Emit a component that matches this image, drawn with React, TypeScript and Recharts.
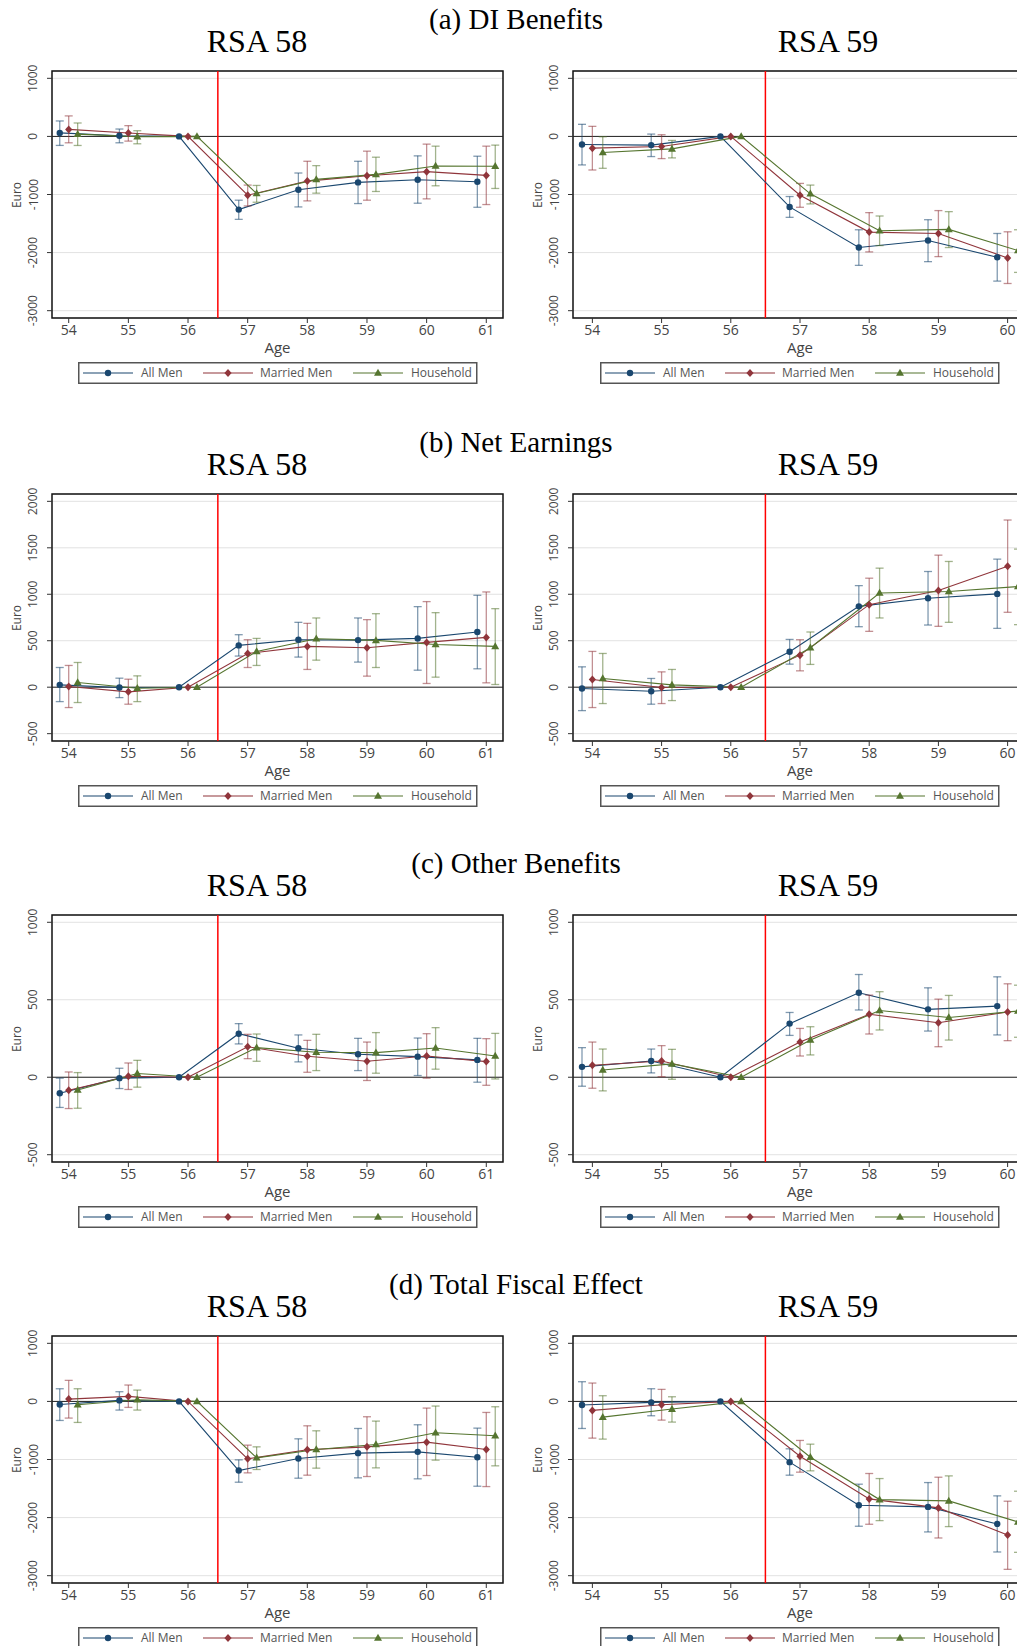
import React from "react";
import {
  ComposedChart,
  Line,
  XAxis,
  YAxis,
  CartesianGrid,
  ReferenceLine,
  ReferenceArea,
  ErrorBar,
} from "recharts";

type CI = [number, number] | null;

const SERIES_NAMES = ["All Men", "Married Men", "Household"];
const COLORS = ["#1a476f", "#90353b", "#55752f"];
const MARKERS = ["circle", "diamond", "triangle"];
const OFFSETS = [-0.15, 0, 0.15];

const AGES_58 = [54, 55, 56, 57, 58, 59, 60, 61];
const AGES_59 = [54, 55, 56, 57, 58, 59, 60];

const TICKS_WIDE = [-3000, -2000, -1000, 0, 1000];
const TICKS_EARN = [-500, 0, 500, 1000, 1500, 2000];
const TICKS_OTHER = [-500, 0, 500, 1000];

// (a) DI Benefits
const DI_58_ALL = [60, 12, 0, -1260, -919, -792, -746, -780];
const DI_58_ALL_CI: CI[] = [[-155, 266], [-110, 127], null, [-1428, -1098], [-1214, -630], [-1156, -428], [-1150, -335], [-1220, -341]];
const DI_58_MAR = [121, 58, 0, -1012, -769, -676, -607, -671];
const DI_58_MAR_CI: CI[] = [[-110, 353], [-81, 185], null, [-1197, -838], [-1110, -428], [-1098, -254], [-1075, -133], [-1173, -168]];
const DI_58_HH = [40, -6, 0, -983, -740, -653, -509, -514];
const DI_58_HH_CI: CI[] = [[-156, 231], [-127, 98], null, [-1133, -844], [-977, -503], [-948, -358], [-850, -168], [-896, -150]];

const DI_59_ALL = [-139, -150, 0, -1214, -1913, -1792, -2081];
const DI_59_ALL_CI: CI[] = [[-491, 208], [-347, 40], null, [-1393, -1035], [-2220, -1607], [-2156, -1434], [-2491, -1671]];
const DI_59_MAR = [-202, -173, 0, -1012, -1647, -1671, -2092];
const DI_59_MAR_CI: CI[] = [[-578, 173], [-382, 29], null, [-1220, -809], [-1988, -1312], [-2069, -1277], [-2532, -1642]];
const DI_59_HH = [-277, -214, 0, -988, -1624, -1601, -1965];
const DI_59_HH_CI: CI[] = [[-549, -6], [-370, -69], null, [-1162, -838], [-1879, -1370], [-1913, -1295], [-2341, -1607]];

// (b) Net Earnings
const NE_58_ALL = [25, -4, 0, 450, 511, 507, 525, 594];
const NE_58_ALL_CI: CI[] = [[-155, 212], [-112, 97], null, [335, 565], [324, 698], [270, 745], [183, 867], [198, 989]];
const NE_58_MAR = [7, -50, 0, 363, 439, 424, 482, 536];
const NE_58_MAR_CI: CI[] = [[-219, 234], [-183, 86], null, [212, 511], [191, 687], [119, 727], [40, 921], [47, 1025]];
const NE_58_HH = [50, -11, 0, 385, 522, 504, 460, 439];
const NE_58_HH_CI: CI[] = [[-165, 266], [-155, 122], null, [234, 525], [291, 745], [212, 791], [108, 802], [29, 845]];

const NE_59_ALL = [-14, -43, 0, 381, 870, 957, 1004];
const NE_59_ALL_CI: CI[] = [[-252, 219], [-183, 94], null, [248, 514], [651, 1093], [669, 1245], [633, 1378]];
const NE_59_MAR = [83, -4, 0, 345, 888, 1040, 1302];
const NE_59_MAR_CI: CI[] = [[-219, 385], [-176, 165], null, [176, 511], [601, 1173], [655, 1421], [806, 1799]];
const NE_59_HH = [94, 25, 0, 424, 1014, 1029, 1083];
const NE_59_HH_CI: CI[] = [[-176, 363], [-144, 191], null, [245, 594], [745, 1281], [698, 1353], [673, 1486]];

// (c) Other Benefits
const OB_58_ALL = [-103, -6, 0, 281, 187, 148, 133, 112];
const OB_58_ALL_CI: CI[] = [[-195, -6], [-73, 58], null, [215, 346], [99, 273], [43, 251], [11, 253], [-32, 251]];
const OB_58_MAR = [-84, 6, 0, 197, 135, 103, 137, 101];
const OB_58_MAR_CI: CI[] = [[-202, 34], [-79, 92], null, [120, 277], [32, 238], [-21, 227], [-6, 281], [-52, 249]];
const OB_58_HH = [-82, 24, 0, 191, 161, 159, 189, 137];
const OB_58_HH_CI: CI[] = [[-200, 30], [-64, 109], null, [103, 279], [43, 277], [26, 288], [52, 320], [-11, 283]];

const OB_59_ALL = [67, 105, 0, 346, 545, 438, 459];
const OB_59_ALL_CI: CI[] = [[-58, 191], [28, 182], null, [270, 418], [434, 663], [298, 577], [273, 648]];
const OB_59_MAR = [77, 105, 0, 227, 406, 352, 421];
const OB_59_MAR_CI: CI[] = [[-71, 227], [4, 204], null, [137, 315], [279, 530], [197, 504], [236, 603]];
const OB_59_HH = [47, 86, 0, 240, 431, 386, 427];
const OB_59_HH_CI: CI[] = [[-88, 182], [-13, 180], null, [144, 326], [305, 552], [240, 528], [258, 594]];

// (d) Total Fiscal Effect
const TF_58_ALL = [-52, 17, 0, -1190, -983, -891, -868, -960];
const TF_58_ALL_CI: CI[] = [[-328, 218], [-149, 167], null, [-1391, -1006], [-1322, -644], [-1316, -466], [-1333, -402], [-1460, -460]];
const TF_58_MAR = [40, 86, 0, -988, -833, -782, -701, -828];
const TF_58_MAR_CI: CI[] = [[-287, 362], [-103, 282], null, [-1230, -753], [-1270, -420], [-1293, -264], [-1276, -115], [-1466, -190]];
const TF_58_HH = [-57, 29, 0, -971, -828, -741, -540, -592];
const TF_58_HH_CI: CI[] = [[-362, 218], [-149, 195], null, [-1172, -782], [-1149, -506], [-1144, -339], [-1011, -80], [-1109, -92]];

const TF_59_ALL = [-63, -17, 0, -1046, -1787, -1816, -2109];
const TF_59_ALL_CI: CI[] = [[-466, 339], [-247, 218], null, [-1270, -816], [-2149, -1425], [-2247, -1397], [-2592, -1626]];
const TF_59_MAR = [-155, -57, 0, -943, -1678, -1833, -2299];
const TF_59_MAR_CI: CI[] = [[-632, 316], [-322, 207], null, [-1218, -672], [-2115, -1241], [-2351, -1305], [-2891, -1718]];
const TF_59_HH = [-270, -132, 0, -960, -1690, -1713, -2075];
const TF_59_HH_CI: CI[] = [[-649, 98], [-356, 80], null, [-1195, -736], [-2052, -1328], [-2155, -1282], [-2598, -1546]];

const SANS = "'Open Sans', 'Noto Sans', sans-serif";
const SERIF = "'Liberation Serif', 'Times New Roman', serif";
const X_MIN = 53.72;

function toPoints(ages: number[], offset: number, est: number[], ci: CI[]) {
  return ages.map((age, i) => {
    const band = ci[i];
    return {
      x: age + offset,
      y: est[i],
      err: band ? [est[i] - band[0], band[1] - est[i]] : null,
    };
  });
}

function MarkerShape({ cx, cy, shape, color }: { cx: number; cy: number; shape: string; color: string }) {
  if (cx == null || cy == null) return null;
  if (shape === "circle") return <circle cx={cx} cy={cy} r={3.2} fill={color} />;
  if (shape === "diamond")
    return <path d={`M${cx},${cy - 4}L${cx + 3.6},${cy}L${cx},${cy + 4}L${cx - 3.6},${cy}Z`} fill={color} />;
  return <path d={`M${cx},${cy - 4.2}L${cx + 4},${cy + 2.8}L${cx - 4},${cy + 2.8}Z`} fill={color} />;
}

function YTick(props: any) {
  const { x, y, payload } = props;
  const cx = x - 14;
  return (
    <text
      x={cx}
      y={y}
      transform={`rotate(-90 ${cx} ${y})`}
      textAnchor="middle"
      dominantBaseline="central"
      fontSize={12}
      fill="#444"
      fontFamily={SANS}
    >
      {payload.value}
    </text>
  );
}

interface SeriesInput {
  est: number[];
  ci: CI[];
}

interface PanelProps {
  left: number;
  top: number;
  width: number;
  axisWidth: number;
  ages: number[];
  yDomain: [number, number];
  yTicks: number[];
  series: SeriesInput[];
}

function Panel({ left, top, width, axisWidth, ages, yDomain, yTicks, series }: PanelProps) {
  const xMax = ages[ages.length - 1] + 0.28;
  return (
    <div style={{ position: "absolute", left, top }}>
      <ComposedChart width={width} height={287} margin={{ top: 10, right: 7, bottom: 0, left: 0 }}>
        <CartesianGrid horizontal vertical={false} stroke="#e2e2e2" strokeWidth={1} />
        <XAxis
          type="number"
          dataKey="x"
          domain={[X_MIN, xMax]}
          ticks={ages}
          interval={0}
          allowDataOverflow
          height={30}
          tickSize={5}
          tickMargin={2}
          axisLine={false}
          tickLine={{ stroke: "#333" }}
          tick={{ fontSize: 14, fill: "#444", fontFamily: SANS }}
        />
        <YAxis
          type="number"
          dataKey="y"
          domain={yDomain}
          ticks={yTicks}
          interval={0}
          allowDataOverflow
          width={axisWidth}
          tickSize={5}
          tickMargin={0}
          axisLine={false}
          tickLine={{ stroke: "#333" }}
          tick={<YTick />}
        />
        <ReferenceLine y={0} stroke="#222" strokeWidth={1} />
        <ReferenceLine x={56.5} stroke="#ff0000" strokeWidth={1.5} />
        {series.map((s, k) => (
          <Line
            key={SERIES_NAMES[k]}
            name={SERIES_NAMES[k]}
            data={toPoints(ages, OFFSETS[k], s.est, s.ci)}
            dataKey="y"
            type="linear"
            stroke={COLORS[k]}
            strokeWidth={1.1}
            isAnimationActive={false}
            activeDot={false}
            dot={(p: any) => (
              <MarkerShape key={`m-${k}-${p.index}`} cx={p.cx} cy={p.cy} shape={MARKERS[k]} color={COLORS[k]} />
            )}
          >
            <ErrorBar
              dataKey="err"
              direction="y"
              width={4}
              stroke={COLORS[k]}
              strokeOpacity={0.55}
              strokeWidth={1.3}
              isAnimationActive={false}
            />
          </Line>
        ))}
        <ReferenceArea
          x1={X_MIN}
          x2={xMax}
          y1={yDomain[0]}
          y2={yDomain[1]}
          fill="none"
          stroke="#111"
          strokeWidth={1.5}
          ifOverflow="visible"
        />
      </ComposedChart>
    </div>
  );
}

function CenterText({ x, y, size, font, color, rotate, children }: any) {
  return (
    <div
      style={{
        position: "absolute",
        left: x,
        top: y,
        transform: `translate(-50%, -50%)${rotate ? " rotate(-90deg)" : ""}`,
        fontSize: size,
        fontFamily: font,
        color,
        lineHeight: 1,
        whiteSpace: "nowrap",
      }}
    >
      {children}
    </div>
  );
}

function LegendBox({ left, top }: { left: number; top: number }) {
  const items = [
    { lx: 5, mx: 30, tx: 63 },
    { lx: 125, mx: 150, tx: 182 },
    { lx: 275, mx: 300, tx: 333 },
  ];
  return (
    <svg style={{ position: "absolute", left, top }} width={400} height={22}>
      <rect x={0.75} y={0.75} width={398} height={20.5} fill="#fff" stroke="#555" strokeWidth={1.5} />
      {items.map((it, k) => (
        <g key={SERIES_NAMES[k]}>
          <line x1={it.lx} x2={it.lx + 50} y1={11} y2={11} stroke={COLORS[k]} strokeWidth={1.1} />
          <MarkerShape cx={it.mx} cy={11} shape={MARKERS[k]} color={COLORS[k]} />
          <text x={it.tx} y={15.3} fontSize={12} fill="#555" fontFamily={SANS}>
            {SERIES_NAMES[k]}
          </text>
        </g>
      ))}
    </svg>
  );
}

interface RowProps {
  top: number;
  title: string;
  yDomain: [number, number];
  yTicks: number[];
  left58: SeriesInput[];
  right59: SeriesInput[];
}

function Row({ top, title, yDomain, yTicks, left58, right59 }: RowProps) {
  const plotMid = top + 71 + 123.5;
  return (
    <>
      <CenterText x={516} y={top + 19} size={29} font={SERIF} color="#000">
        {title}
      </CenterText>
      <CenterText x={257} y={top + 41} size={32} font={SERIF} color="#000">
        RSA 58
      </CenterText>
      <CenterText x={828} y={top + 41} size={32} font={SERIF} color="#000">
        RSA 59
      </CenterText>
      <Panel left={0} top={top + 61} width={510} axisWidth={52} ages={AGES_58} yDomain={yDomain} yTicks={yTicks} series={left58} />
      <Panel left={520} top={top + 61} width={514} axisWidth={53} ages={AGES_59} yDomain={yDomain} yTicks={yTicks} series={right59} />
      <CenterText x={17} y={plotMid} size={12} font={SANS} color="#444" rotate>
        Euro
      </CenterText>
      <CenterText x={538} y={plotMid} size={12} font={SANS} color="#444" rotate>
        Euro
      </CenterText>
      <CenterText x={277.5} y={top + 347} size={15} font={SANS} color="#444">
        Age
      </CenterText>
      <CenterText x={800} y={top + 347} size={15} font={SANS} color="#444">
        Age
      </CenterText>
      <LegendBox left={78} top={top + 362} />
      <LegendBox left={600} top={top + 362} />
    </>
  );
}

export default function App() {
  return (
    <div style={{ position: "relative", width: 1017, height: 1646, overflow: "hidden", background: "#fff" }}>
      <style>{"body{margin:0}"}</style>
      <Row
        top={0}
        title="(a) DI Benefits"
        yDomain={[-3126, 1126]}
        yTicks={TICKS_WIDE}
        left58={[
          { est: DI_58_ALL, ci: DI_58_ALL_CI },
          { est: DI_58_MAR, ci: DI_58_MAR_CI },
          { est: DI_58_HH, ci: DI_58_HH_CI },
        ]}
        right59={[
          { est: DI_59_ALL, ci: DI_59_ALL_CI },
          { est: DI_59_MAR, ci: DI_59_MAR_CI },
          { est: DI_59_HH, ci: DI_59_HH_CI },
        ]}
      />
      <Row
        top={423}
        title="(b) Net Earnings"
        yDomain={[-579, 2079]}
        yTicks={TICKS_EARN}
        left58={[
          { est: NE_58_ALL, ci: NE_58_ALL_CI },
          { est: NE_58_MAR, ci: NE_58_MAR_CI },
          { est: NE_58_HH, ci: NE_58_HH_CI },
        ]}
        right59={[
          { est: NE_59_ALL, ci: NE_59_ALL_CI },
          { est: NE_59_MAR, ci: NE_59_MAR_CI },
          { est: NE_59_HH, ci: NE_59_HH_CI },
        ]}
      />
      <Row
        top={844}
        title="(c) Other Benefits"
        yDomain={[-547, 1047]}
        yTicks={TICKS_OTHER}
        left58={[
          { est: OB_58_ALL, ci: OB_58_ALL_CI },
          { est: OB_58_MAR, ci: OB_58_MAR_CI },
          { est: OB_58_HH, ci: OB_58_HH_CI },
        ]}
        right59={[
          { est: OB_59_ALL, ci: OB_59_ALL_CI },
          { est: OB_59_MAR, ci: OB_59_MAR_CI },
          { est: OB_59_HH, ci: OB_59_HH_CI },
        ]}
      />
      <Row
        top={1265}
        title="(d) Total Fiscal Effect"
        yDomain={[-3126, 1126]}
        yTicks={TICKS_WIDE}
        left58={[
          { est: TF_58_ALL, ci: TF_58_ALL_CI },
          { est: TF_58_MAR, ci: TF_58_MAR_CI },
          { est: TF_58_HH, ci: TF_58_HH_CI },
        ]}
        right59={[
          { est: TF_59_ALL, ci: TF_59_ALL_CI },
          { est: TF_59_MAR, ci: TF_59_MAR_CI },
          { est: TF_59_HH, ci: TF_59_HH_CI },
        ]}
      />
    </div>
  );
}
